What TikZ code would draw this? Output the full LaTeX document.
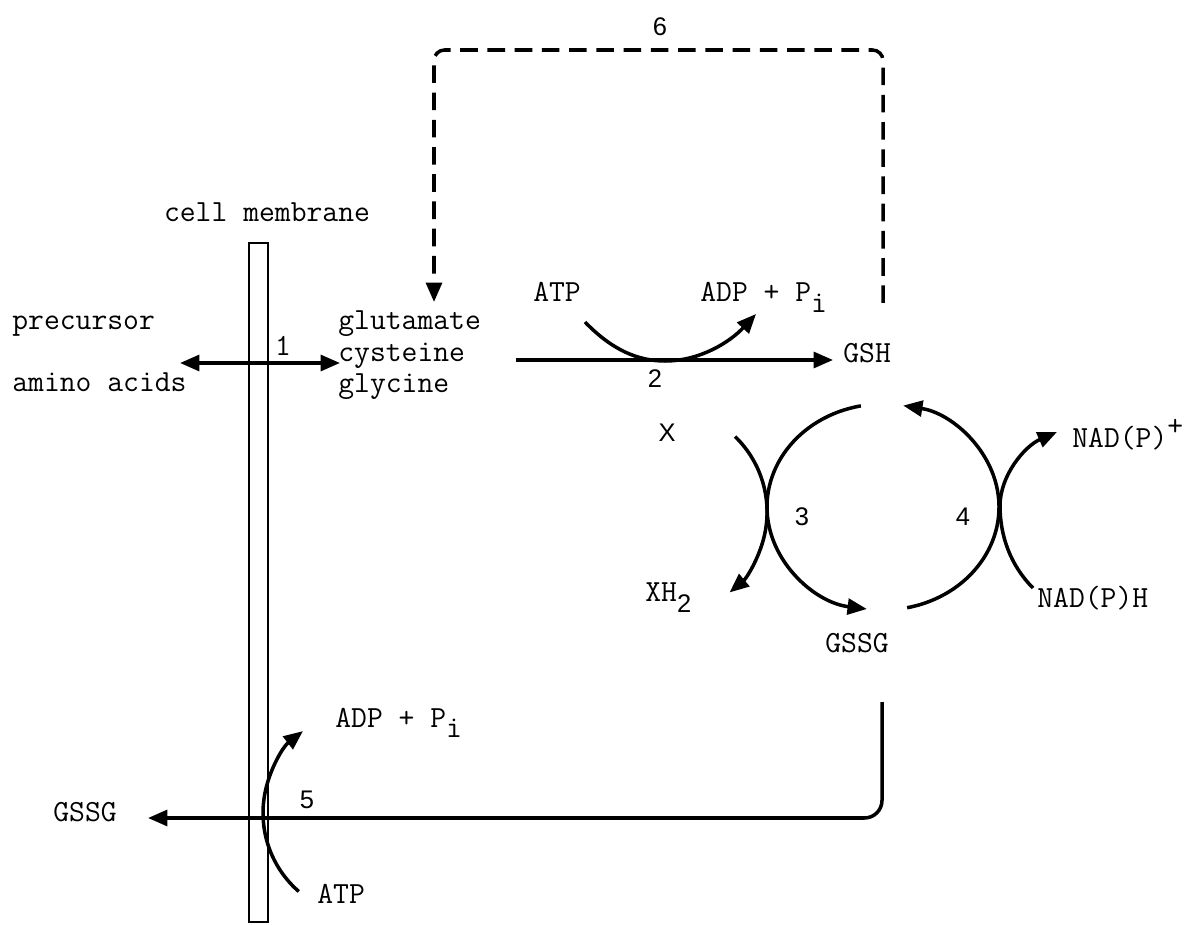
\documentclass[tikz,border=0pt]{standalone}
\usepackage{fontspec}
\newfontfamily\numfont{Liberation Sans}
\usetikzlibrary{arrows.meta,calc}
\begin{document}
\begin{tikzpicture}[x=0.02cm,y=-0.02cm,
  tt/.style={font=\fontsize{17.5}{20}\selectfont\ttfamily, inner sep=0pt},
  num/.style={font=\fontsize{14.5}{16}\selectfont\numfont, inner sep=0pt},
  ln/.style={line width=2pt},
  tip/.style={-{Triangle[length=11pt,width=9pt]}},
  arr/.style={ln, tip},
  dsh/.style={line width=2pt, dash pattern=on 10pt off 5.5pt, rounded corners=6pt},
  membrane/.style={draw, line width=1.4pt, inner sep=0pt, minimum width=0.38cm, minimum height=13.58cm}
]
\useasboundingbox (0,0) rectangle (1190,925);

% membrane
\node[membrane] (mem) at (258.5,582.5) {};

% labels
\node[num] (n6) at (660,27) {6};
\node[tt] (cm) at (267,212) {cell membrane};
\node[tt, anchor=base west] (prec) at (12,330) {precursor};
\node[tt, anchor=base west] (amino) at (12,392) {amino acids};
\node[tt, anchor=base west] (glu) at (338,330) {glutamate};
\node[tt, anchor=base west] (cys) at (338,362) {cysteine};
\node[tt, anchor=base west] (gly) at (338,393) {glycine};
\node[tt] (n1) at (283,346) {1};
\node[tt, anchor=base] (atpa) at (557,302) {ATP};
\node[tt, anchor=base west] (adpa) at (700,302) {ADP + P\raisebox{-6pt}{i}};
\node[tt, anchor=base west] (gsh) at (843,363) {GSH};
\node[num] (n2) at (655,379) {2};
\node[num] (X) at (667,433) {X};
\node[tt, anchor=base west] (xh2) at (645,602) {XH\raisebox{-6pt}{\fontsize{14.5}{16}\selectfont\numfont 2}};
\node[num] (n3) at (802,517) {3};
\node[num] (n4) at (963,517) {4};
\node[tt] (gssga) at (857,643) {GSSG};
\node[tt, anchor=west] (nadp) at (1072,435) {NAD(P)\raisebox{7pt}{+}};
\node[tt, anchor=west] (nadph) at (1037,598) {NAD(P)H};
\node[tt] (gssgb) at (85,812) {GSSG};
\node[num] (n5) at (307,800) {5};
\node[tt, anchor=base west] (adpb) at (335,727) {ADP + P\raisebox{-6pt}{i}};
\node[tt, anchor=base west] (atpb) at (317,903) {ATP};

% connector end points
\coordinate (d6s) at (883,303);
\coordinate (d6e) at (434,302);
\coordinate (r1a) at (180,363);
\coordinate (r1b) at (340,363);
\coordinate (r2s) at (516,360);
\coordinate (r2e) at (833,360);
\coordinate (c2s) at (585,322);
\coordinate (c2m) at (665,361);
\coordinate (c2e) at (756,314);
\coordinate (s3) at (735,436.5);
\coordinate (s4) at (1033,588);
\coordinate (m4) at (1000,506);
\coordinate (e4) at (1057,432);
\coordinate (s5) at (298.8,891.5);
\coordinate (ox) at (882,702);
\coordinate (oc) at (882,818);
\coordinate (oe) at (148,818);
\coordinate (cyc) at (883,507);

% reaction 6 (dashed feedback)
\draw[dsh, tip] (d6s) -- (883,50) -- (434,50) -- (d6e);

% reaction 1
\draw[ln, {Triangle[length=11pt,width=9pt]}-{Triangle[length=11pt,width=9pt]}] (r1a) -- (r1b);

% reaction 2
\draw[arr] (r2s) -- (r2e);
\draw[arr] (c2s) .. controls (612,350) and (638,361) .. (c2m) .. controls (700,361) and (730,342) .. (c2e);

% redox cycle
\draw[arr] ($(cyc)+(-101:116 and 103)$) arc[start angle=-101, end angle=-262, x radius=116, y radius=103];
\draw[arr] ($(cyc)+(78:116 and 103)$) arc[start angle=78, end angle=-80, x radius=116, y radius=103];

% reaction 3
\draw[arr] (s3) arc[start angle=-46, end angle=50, radius=105];

% reaction 4
\draw[arr] (s4) .. controls (1010,565) and (1000,535) .. (m4) .. controls (1000,475) and (1025,446) .. (e4);

% reaction 5
\draw[arr] (s5) arc[start angle=131, end angle=232, radius=104];

% GSSG export
\draw[arr, rounded corners=10pt] (ox) -- (oc) -- (oe);
\end{tikzpicture}
\end{document}
